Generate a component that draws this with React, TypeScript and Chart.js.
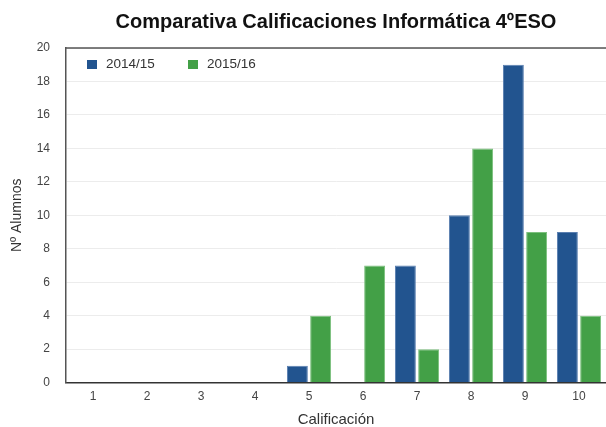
import React, { useEffect, useRef } from "react";
import { Chart, registerables } from "chart.js";

Chart.register(...registerables);

const categories = ["1", "2", "3", "4", "5", "6", "7", "8", "9", "10"];
const series2014 = [0, 0, 0, 0, 1, 0, 7, 10, 19, 9];
const series2015 = [0, 0, 0, 0, 4, 7, 2, 14, 9, 4];
const seriesLabels = ["2014/15", "2015/16"];
const title = "Comparativa Calificaciones Informática 4ºESO";
const yTitle = "Nº Alumnos";
const xTitle = "Calificación";

const FONT = "'Liberation Sans', Arial, Helvetica, sans-serif";

const innerLegend = {
  id: "innerLegend",
  afterDraw(chart: any) {
    const { ctx, chartArea } = chart;
    ctx.save();
    // top border
    ctx.strokeStyle = "#555";
    ctx.lineWidth = 1.5;
    ctx.beginPath();
    ctx.moveTo(chartArea.left, chartArea.top);
    ctx.lineTo(chartArea.right, chartArea.top);
    ctx.stroke();
    ctx.font = "13.5px " + FONT;
    ctx.textBaseline = "middle";
    ctx.textAlign = "left";
    const offsets = [21, 122];
    chart.data.datasets.forEach((ds: any, i: number) => {
      const x = chartArea.left + offsets[i];
      const y = chartArea.top + 16;
      ctx.fillStyle = ds.backgroundColor;
      ctx.fillRect(x, y - 4, 10, 9);
      ctx.fillStyle = "#333";
      ctx.fillText(ds.label, x + 19, y);
    });
    ctx.restore();
  },
};

export default function App() {
  const ref = useRef<HTMLCanvasElement>(null);
  useEffect(() => {
    document.body.style.margin = "0";
    const chart = new Chart(ref.current!, {
      type: "bar",
      data: {
        labels: categories,
        datasets: [
          {
            label: seriesLabels[0],
            data: series2014,
            backgroundColor: "#22548f",
            borderColor: "#5a7fb0",
            borderWidth: 1,
            barPercentage: 0.9,
            categoryPercentage: 0.86,
          },
          {
            label: seriesLabels[1],
            data: series2015,
            backgroundColor: "#43a047",
            borderColor: "#7cc07e",
            borderWidth: 1,
            barPercentage: 0.9,
            categoryPercentage: 0.86,
          },
        ],
      },
      options: {
        animation: false,
        responsive: false,
        maintainAspectRatio: false,
        layout: { padding: { left: 6, right: 0, top: 0, bottom: 0 } },
        plugins: {
          legend: { display: false },
          tooltip: { enabled: false },
          title: {
            display: true,
            fullSize: false,
            text: title,
            color: "#111",
            font: { family: FONT, size: 20, weight: "bold" },
            padding: { top: 10, bottom: 14 },
          },
        },
        scales: {
          x: {
            grid: { display: false, drawTicks: false },
            border: { display: true, color: "#333", width: 1.5 },
            ticks: {
              color: "#444",
              font: { family: FONT, size: 12 },
              padding: 7,
            },
            title: {
              display: true,
              text: xTitle,
              color: "#333",
              font: { family: FONT, size: 15, lineHeight: 1 },
              padding: { top: 1, bottom: 0 },
            },
          },
          y: {
            min: 0,
            max: 20,
            grid: { color: "#ececec", drawTicks: false },
            border: { display: true, color: "#555", width: 1.5 },
            afterFit: (scale: any) => {
              scale.width = 60;
            },
            ticks: {
              stepSize: 2,
              color: "#444",
              font: { family: FONT, size: 12 },
              padding: 16,
            },
            title: {
              display: true,
              text: yTitle,
              color: "#333",
              font: { family: FONT, size: 14 },
              padding: { top: 3, bottom: 6 },
            },
          },
        },
      },
      plugins: [innerLegend],
    });
    return () => chart.destroy();
  }, []);
  return <canvas ref={ref} width={606} height={427} style={{ display: "block" }} />;
}
